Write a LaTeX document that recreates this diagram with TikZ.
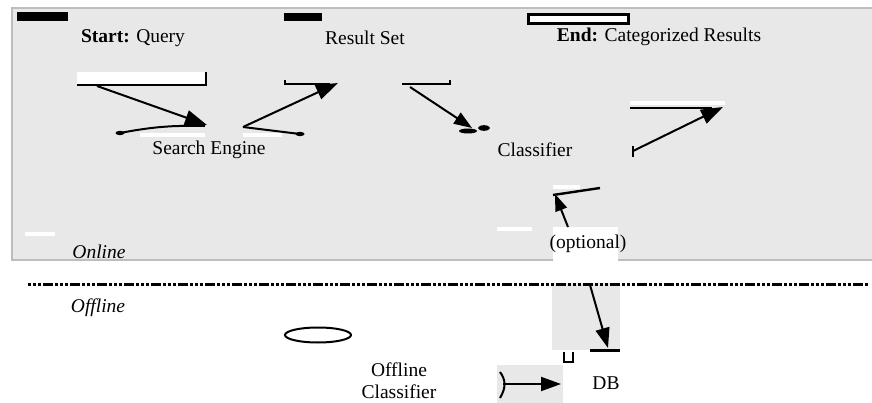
\documentclass[tikz,border=0pt]{standalone}
\usepackage{fontspec}
\setmainfont{Liberation Serif}
\usetikzlibrary{arrows.meta, shapes.geometric}
\tikzset{>={Triangle[length=22pt,width=15pt]}}
\definecolor{panelgray}{HTML}{E8E8E8}
\definecolor{bordergray}{HTML}{BDBDBD}

\begin{document}
\begin{tikzpicture}[x=1pt,y=-1pt,
        lbl/.style={font=\fontsize{19.5}{22}\selectfont, inner sep=0pt},
        lnk/.style={line width=2pt},
        whitebar/.style={white, line width=3.5pt},
        patch/.style={fill=panelgray, draw=none}]
        \useasboundingbox (0,0) rectangle (872,403);
        % online panel
        \draw [fill=panelgray, draw=bordergray, line width=2.5pt] (12,8) rectangle (880,260);
        \fill [white] (553,227) rectangle (618,263);
        \path [patch] (552,283) rectangle (620,350);
        \path [patch] (497,365) rectangle (563,403);
        % bars over the labels
        \fill (17,12) rectangle (68,21);
        \fill (284,13) rectangle (322,21);
        \draw [line width=3pt, fill=white] (528.5,14.5) rectangle (628.5,24);
        \fill [white] (77,72) rectangle (207,85);
        \draw [lnk] (77,85)--(206,85)--(206,72);
        \draw [whitebar] (25,234)--(55,234);
        \draw [whitebar] (497,229)--(532,229);
        % labels
        \node [lbl] (start) at (133,38) {\textbf{Start:} Query};
        \node [lbl] (resultset) at (365,38) {Result Set};
        \node [lbl] (finish) at (659,37) {\textbf{End:} Categorized Results};
        \node [lbl] (engine) at (209,150) {Search Engine};
        \node [lbl] (classifier) at (535,150) {Classifier};
        \node [lbl] (online) at (99,252) {\textit{Online}};
        \node [lbl] (offline) at (98,308) {\textit{Offline}};
        \node [lbl] (optional) at (588,244) {(optional)};
        \node [lbl, align=center] (offclass) at (399,381) {Offline\\Classifier};
        \node [lbl] (db) at (606,383) {DB};
        \node [draw, ellipse, line width=2pt, minimum width=66pt, minimum height=15pt, inner sep=0pt] (store) at (318,335) {};
        % connector ends
        \coordinate (q1) at (97,86);
        \coordinate (q2) at (207,125);
        \coordinate (q3) at (120,133);
        \coordinate (q4) at (205,126);
        \coordinate (r1) at (243,127);
        \coordinate (r2) at (338,83);
        \coordinate (r3) at (300,134);
        \coordinate (c1) at (410,87);
        \coordinate (c2) at (472,128);
        \coordinate (e1) at (633,151);
        \coordinate (e2) at (723,107);
        \coordinate (o1) at (568,227);
        \coordinate (o2) at (555,194);
        \coordinate (d1) at (590,285);
        \coordinate (d2) at (608,348);
        \coordinate (b1) at (503,384);
        \coordinate (b2) at (561,384);
        % query to search engine
        \draw [lnk,->] (q1)--(q2);
        \draw [whitebar] (140,135)--(205,135);
        \draw [lnk] (q3) to [bend left=6] (q4);
        \fill (q3) ellipse (4.5pt and 2.2pt);
        % search engine to result set
        \draw [lnk] (285,80)--(285,84)--(330,84);
        \draw [lnk,->] (r1)--(r2);
        \draw [whitebar] (243,135)--(282,135);
        \draw [lnk] (r1)--(r3);
        \fill (r3) ellipse (4.5pt and 2.2pt);
        % result set to classifier
        \draw [lnk] (402,84)--(450,84)--(450,80);
        \draw [lnk,->,>={Triangle[length=18pt,width=13pt]}] (c1)--(c2);
        \fill (468,131) ellipse (9pt and 2.5pt);
        \fill (484,128) ellipse (6pt and 2.8pt);
        % classifier to categorized results
        \draw [whitebar] (630,103)--(725,103);
        \draw [line width=1.8pt] (630,108)--(712,108);
        \draw [lnk,->] (e1)--(e2);
        \draw [lnk] (633,146)--(633,157);
        % optional link
        \draw [whitebar] (553,187)--(580,187);
        \draw [line width=2.4pt] (553,195)--(600,188);
        \draw [lnk,->,>={Triangle[length=17pt,width=12pt]}] (o1)--(o2);
        % online / offline split
        \draw [line width=3pt, dash pattern=on 3pt off 2pt on 3pt off 2pt on 3pt off 2pt on 10pt off 2pt] (28,284)--(868,284);
        % offline part
        \draw [lnk,->,>={Triangle[length=20pt,width=14pt]}] (d1)--(d2);
        \draw [line width=3pt] (590,350)--(620,350);
        \draw [line width=2.2pt] (564,352)--(564,362)--(573,362)--(573,352);
        \draw [lnk,->,>={Triangle[length=20pt,width=14pt]}] (b1)--(b2);
        \draw [lnk] (500,372) .. controls (506,380) and (506,388) .. (500,398);
\end{tikzpicture}
\end{document}
